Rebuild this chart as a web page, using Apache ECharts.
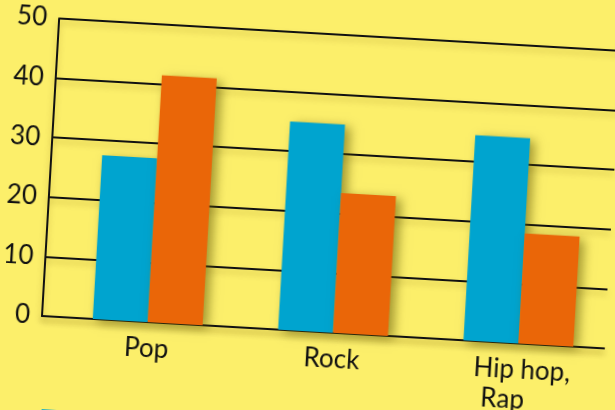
<!DOCTYPE html>
<html>
<head>
<meta charset="utf-8">
<script src="https://cdn.jsdelivr.net/npm/echarts@6/dist/echarts.min.js"></script>
<style>
  html, body { margin: 0; padding: 0; width: 615px; height: 410px; overflow: hidden; background: #fcef6a; }
  /* the photographed page is turned a little, so the whole chart is rotated about the axis origin */
  #chart { position: absolute; left: 0; top: 0; width: 640px; height: 450px;
           transform-origin: 42px 316px; transform: rotate(3.3deg); }
</style>
</head>
<body>
<div id="chart"></div>
<script>
// 数据
const categories = ['Pop', 'Rock', 'Hip hop, Rap']
const seriesNames = ['Boys', 'Girls']
const blueValues = [27.5, 35, 34.5]
const orangeValues = [41.5, 23.5, 18.5]
const yTicks = [0, 10, 20, 30, 40, 50]

const chart = echarts.init(document.getElementById('chart'))

const font = 'Lato, "Open Sans", sans-serif'
const lineShadow = {
  color: '#111',
  width: 2,
  shadowColor: 'rgba(120, 100, 0, 0.35)',
  shadowBlur: 6,
  shadowOffsetY: 4
}
const barShadow = {
  shadowColor: 'rgba(90, 80, 0, 0.55)',
  shadowBlur: 10,
  shadowOffsetX: 5,
  shadowOffsetY: 3
}

const option = {
  animation: false,
  backgroundColor: 'transparent',
  textStyle: { fontFamily: font },
  legend: {
    orient: 'vertical',
    left: 42,
    top: 404,
    itemWidth: 26,
    itemHeight: 22,
    icon: 'rect',
    data: seriesNames,
    textStyle: { fontSize: 22, color: '#111', fontFamily: font }
  },
  grid: [
    // 坐标轴和网格线
    { left: 42, top: 18, width: 563, height: 298, outerBoundsMode: 'none' },
    // 柱子和类目标签
    { left: 55, top: 18, width: 557, height: 298, outerBoundsMode: 'none' }
  ],
  xAxis: [
    {
      gridIndex: 0,
      type: 'category',
      data: categories,
      axisLine: { lineStyle: lineShadow },
      axisTick: { show: false },
      axisLabel: { show: false }
    },
    {
      gridIndex: 1,
      type: 'category',
      data: categories,
      axisLine: { show: false },
      axisTick: { show: false },
      axisLabel: {
        margin: 12,
        fontSize: 26,
        color: '#111',
        lineHeight: 30,
        formatter: (v) => v === 'Hip hop, Rap' ? '{a|Hip hop,}\n{b|Rap}' : v,
        rich: {
          a: { fontSize: 26, lineHeight: 30, color: '#111', padding: [0, 0, 0, 10] },
          b: { fontSize: 26, lineHeight: 30, color: '#111', padding: [0, 26, 0, 0] }
        }
      }
    }
  ],
  yAxis: [
    {
      gridIndex: 0,
      type: 'value',
      min: yTicks[0],
      max: yTicks[yTicks.length - 1],
      interval: 10,
      axisLine: { show: true, lineStyle: lineShadow },
      axisTick: { show: false },
      axisLabel: {
        margin: 12,
        fontSize: 26,
        color: '#111',
        verticalAlign: 'middle',
        padding: [12, 0, 0, 0]
      },
      splitLine: { show: true, lineStyle: lineShadow }
    },
    {
      gridIndex: 1,
      type: 'value',
      min: yTicks[0],
      max: yTicks[yTicks.length - 1],
      interval: 10,
      show: false
    }
  ],
  series: [
    {
      name: seriesNames[0],
      type: 'bar',
      xAxisIndex: 1,
      yAxisIndex: 1,
      barWidth: 55,
      barGap: '0%',
      data: blueValues,
      itemStyle: Object.assign({ color: '#00a4cf' }, barShadow)
    },
    {
      name: seriesNames[1],
      type: 'bar',
      xAxisIndex: 1,
      yAxisIndex: 1,
      barWidth: 55,
      barGap: '0%',
      data: orangeValues,
      itemStyle: Object.assign({ color: '#ea6608' }, barShadow)
    }
  ]
}

chart.setOption(option)
</script>
</body>
</html>
